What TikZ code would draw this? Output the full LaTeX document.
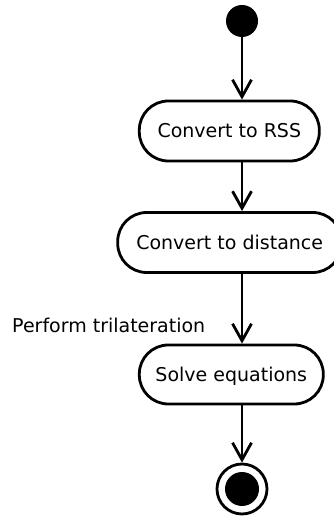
\documentclass[tikz,border=0pt]{standalone}
\usepackage{fontspec}
\setmainfont{DejaVu Sans}
\usetikzlibrary{arrows.meta}
\begin{document}
\begin{tikzpicture}[x=1pt,y=1pt,
  every node/.style={font=\fontsize{19pt}{23pt}\selectfont},
  actbox/.style={draw=black, fill=white, line width=2.8pt, rounded corners=29pt,
    inner sep=0pt, minimum height=60pt, text height=14pt, text depth=0pt},
  flow/.style={line width=2.8pt, -{Straight Barb[length=17pt,width=19pt,line width=2.8pt]}},
  startdot/.style={circle, fill=black, inner sep=0pt, minimum size=32pt},
  endring/.style={circle, draw=black, line width=2.8pt, fill=white, inner sep=0pt, minimum size=50pt},
  enddot/.style={circle, fill=black, inner sep=0pt, minimum size=34pt}]
\useasboundingbox (0,0) rectangle (334,516);
\clip (0,0) rectangle (334,516);
\node[startdot] (start) at (242,495) {};
\node[actbox, minimum width=180pt] (b1) at (229.3,385) {Convert to RSS};
\node[actbox, minimum width=224pt] (b2) at (229.7,273.5) {Convert to distance};
\node[actbox, minimum width=184pt, minimum height=59pt] (b3) at (231.3,141.5) {Solve equations};
\node[endring] (endo) at (242,27) {};
\node[enddot] (endi) at (242,27) {};
\draw[flow] (start.south) -- (start.south |- b1.north);
\draw[flow] (b1.south -| start) -- (b2.north -| start);
\draw[flow] (b2.south -| start) -- (b3.north -| start)
  node[pos=0.847, anchor=base east, inner sep=0pt, xshift=-35.3pt] (lbl) {Perform trilateration};
\draw[flow] (b3.south -| start) -- (endo.north);
\end{tikzpicture}
\end{document}
